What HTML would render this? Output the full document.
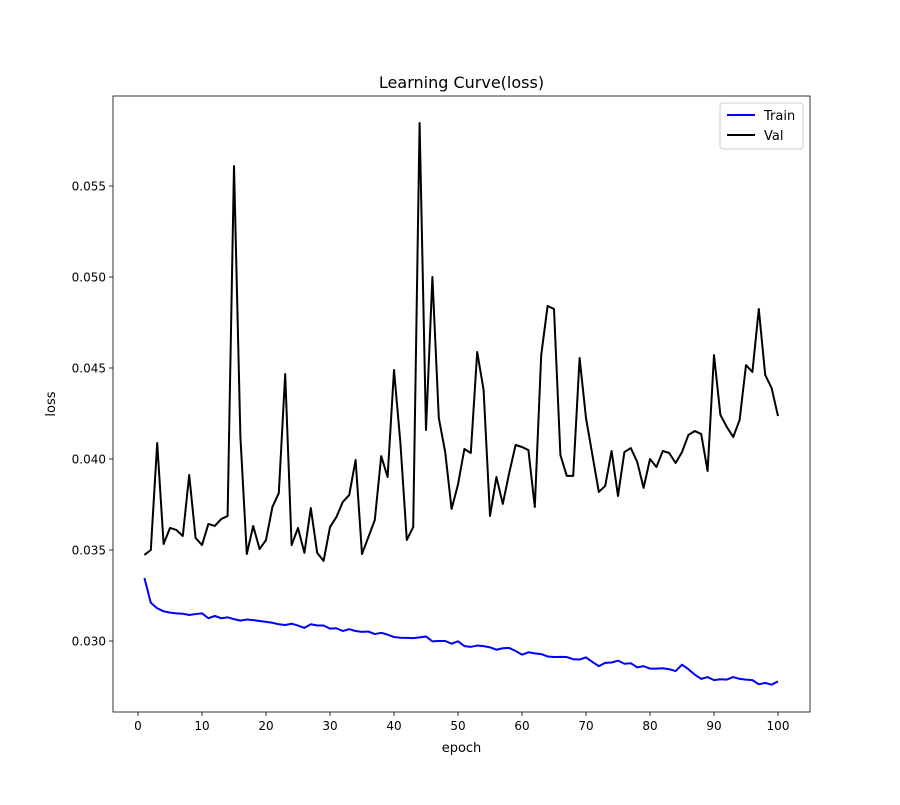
<!DOCTYPE html>
<html><head><meta charset="utf-8"><style>
body{margin:0;background:#fff;}
svg text{font-family:"DejaVu Sans","Liberation Sans",sans-serif;fill:#000;}
</style></head><body>
<svg id="chart" width="900" height="800" xmlns="http://www.w3.org/2000/svg">
<rect width="900" height="800" fill="#fff"/>
<text x="461.5" y="88" font-size="16" text-anchor="middle">Learning Curve(loss)</text>
<g id="axes"></g>
<text x="461.5" y="752" font-size="13" text-anchor="middle">epoch</text>
<text transform="translate(55,404) rotate(-90)" font-size="13" text-anchor="middle">loss</text>
<g>
<rect x="720" y="103" width="83" height="46" rx="3" fill="#fff" stroke="#ccc"/>
<line x1="727" y1="115" x2="755" y2="115" stroke="#0000ff" stroke-width="2"/>
<text x="764" y="120" font-size="13">Train</text>
<line x1="727" y1="135" x2="755" y2="135" stroke="#000" stroke-width="2"/>
<text x="764" y="140" font-size="13">Val</text>
</g>
</svg>
<script>
const xTicks=[0,10,20,30,40,50,60,70,80,90,100];
const yTicks=[0.030,0.035,0.040,0.045,0.050,0.055];
const trainLoss=[33.46,32.10,31.80,31.63,31.56,31.52,31.50,31.43,31.48,31.52,31.25,31.38,31.25,31.30,31.20,31.12,31.18,31.15,31.10,31.05,31.00,30.92,30.88,30.95,30.85,30.72,30.92,30.85,30.85,30.68,30.70,30.55,30.65,30.55,30.50,30.52,30.38,30.45,30.35,30.22,30.18,30.17,30.16,30.20,30.25,29.98,30.00,30.00,29.85,29.98,29.72,29.68,29.75,29.72,29.65,29.52,29.60,29.62,29.45,29.25,29.38,29.32,29.28,29.15,29.12,29.13,29.12,29.00,28.98,29.10,28.85,28.62,28.80,28.82,28.92,28.75,28.78,28.55,28.62,28.48,28.48,28.50,28.45,28.35,28.70,28.45,28.15,27.92,28.02,27.85,27.90,27.88,28.02,27.92,27.88,27.85,27.62,27.70,27.60,27.78];
const valLoss=[34.73,35.00,40.88,35.33,36.21,36.10,35.77,39.12,35.66,35.27,36.43,36.32,36.70,36.87,56.10,41.21,34.78,36.32,35.05,35.55,37.36,38.13,44.67,35.27,36.21,34.84,37.31,34.84,34.40,36.26,36.81,37.64,38.02,39.95,34.78,35.71,36.65,40.16,39.01,44.89,40.88,35.55,36.26,58.46,41.59,50.00,42.25,40.38,37.25,38.60,40.55,40.33,45.88,43.79,36.87,39.01,37.53,39.23,40.77,40.66,40.49,37.36,45.71,48.41,48.24,40.22,39.07,39.07,45.55,42.25,40.22,38.19,38.52,40.44,37.97,40.38,40.60,39.84,38.41,40.00,39.56,40.44,40.33,39.78,40.38,41.32,41.54,41.37,39.34,45.71,42.42,41.76,41.21,42.14,45.16,44.78,48.24,44.62,43.90,42.36];
const NS='http://www.w3.org/2000/svg';
const L=113,R=810,T=96,B=712;
function xs(e){return 138+(e)*6.4;}
function ys(v){return 641-(v-0.030)*18200;}
const g=document.getElementById('axes');
function mk(t,a){const e=document.createElementNS(NS,t);for(const k in a)e.setAttribute(k,a[k]);g.appendChild(e);return e;}
xTicks.forEach(t=>{
 const x=xs(t);
 const ln=mk('line',{x1:x,x2:x,y1:B,y2:B+4,stroke:'#000','stroke-width':0.8});
 
 
 const tx=mk('text',{x:x,y:B+18,'font-size':12,'text-anchor':'middle'});tx.textContent=t;
 
 
});
yTicks.forEach(t=>{
 const y=ys(t);
 const ln=mk('line',{x1:L-4,x2:L,y1:y,y2:y,stroke:'#000','stroke-width':0.8});
 
 
 const tx=mk('text',{x:L-7,y:y+4.5,'font-size':12,'text-anchor':'end'});tx.textContent=t.toFixed(3);
 
 
});
function series(arr,color,name){
 const pts=arr.map((v,i)=>xs(i+1).toFixed(2)+','+ys(v/1000).toFixed(2)).join(' ');
 const p=mk('polyline',{points:pts,fill:'none',stroke:color,'stroke-width':2,'stroke-linejoin':'round'});
 
 
}
series(trainLoss,'#0000ff','train-line');
series(valLoss,'#000000','val-line');
const fr=mk('rect',{x:L,y:T,width:R-L,height:B-T,fill:'none',stroke:'#000','stroke-width':0.8});


</script>
</body></html>
